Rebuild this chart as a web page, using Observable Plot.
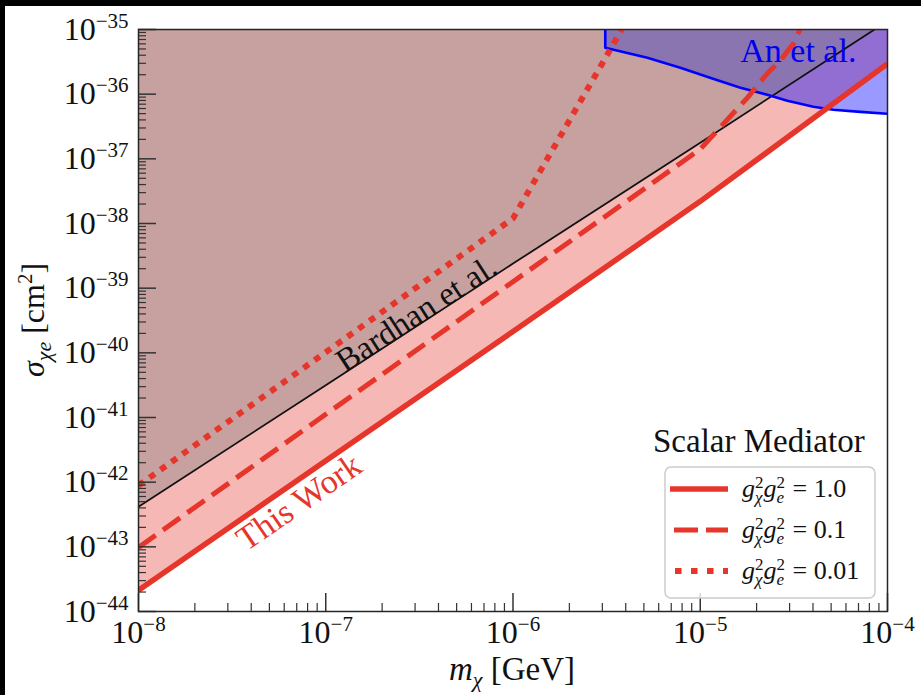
<!DOCTYPE html>
<html><head><meta charset="utf-8">
<script src="https://cdn.jsdelivr.net/npm/d3@7"></script>
<script src="https://cdn.jsdelivr.net/npm/@observablehq/plot@0.6"></script>
<style>
html,body{margin:0;padding:0;background:#000;width:921px;height:695px;overflow:hidden;}
#fig{position:absolute;left:5px;top:6px;width:916px;height:689px;background:#fff;}
#fig svg{position:absolute;left:0;top:0;}
</style></head><body><div id="fig"></div>
<script>
// ---- data ----
const TOP = 1e-35;
const massSolid  = [1e-8, 1e-7, 1e-6, 1e-5, 1e-4];
const sigmaSolid = [2.14e-44, 2.14e-42, 2.14e-40, 2.2e-38, 2.95e-36];

const massDashed  = [1e-8, 1e-7, 1e-6, 1e-5, 1.33e-5, 1.78e-5, 2.28e-5, 2.68e-5, 3.14e-5, 3.34e-5, 3.42e-5];
const sigmaDashed = [9.8e-44, 1.12e-41, 1.26e-39, 1.41e-37, 3.47e-37, 8.7e-37, 2.09e-36, 3.31e-36, 6.0e-36, 8.9e-36, 1.0e-35];

const massDotted  = [1e-8, 1e-7, 1e-6, 3.81e-6];
const sigmaDotted = [8.9e-43, 1.02e-40, 1.2e-38, 1.0e-35];

const massBardhan  = [1e-8, 1e-7, 1e-6, 1e-5, 1e-4];
const sigmaBardhan = [4.17e-43, 3.16e-41, 2.4e-39, 1.78e-37, 1.35e-35];

const massAn  = [3.11e-6, 3.11e-6, 5.22e-6, 7.83e-6, 1.17e-5, 1.64e-5, 2.28e-5, 2.92e-5, 4.02e-5, 5.14e-5, 7.16e-5, 1e-4];
const sigmaAn = [1.0e-35, 5.21e-36, 3.66e-36, 2.56e-36, 1.73e-36, 1.26e-36, 9.8e-37, 7.9e-37, 6.38e-37, 5.74e-37, 5.33e-37, 4.98e-37];

const xTickExp = [-8, -7, -6, -5, -4];
const yTickExp = [-44, -43, -42, -41, -40, -39, -38, -37, -36, -35];

const labelText  = ["Bardhan et al.", "This Work", "An et al."];
const labelMass  = [3.05e-7, 7.2e-8, 3.34e-5];
const labelSigma = [4.0e-40, 4.9e-43, 4.68e-36];
const labelRotate = [-33, -34.5, 0];
const labelSize = [33, 34, 34];

const legendTitle = "Scalar Mediator";
const legendValues = ["1.0", "0.1", "0.01"];
const legendDash = [null, "24,8", "6.5,9.5"];

// ---- build ----
const RED = "#e6352b";
const zip = (xs, ys) => xs.map((x, i) => ({x, y: ys[i]}));
const solid = zip(massSolid, sigmaSolid);
const dashed = zip(massDashed, sigmaDashed);
const dotted = zip(massDotted, sigmaDotted);
const bardhan = zip(massBardhan, sigmaBardhan);
const an = zip(massAn, sigmaAn);
const xTicks = xTickExp.map(e => Math.pow(10, e));
const yTicks = yTickExp.map(e => Math.pow(10, e));
const minorX = [], minorY = [];
xTicks.slice(0, -1).forEach(t => { for (let k = 2; k <= 9; k++) minorX.push(t * k); });
yTicks.slice(0, -1).forEach(t => { for (let k = 2; k <= 9; k++) minorY.push(t * k); });

const W = 916, H = 689, ML = 133, MR = 34, MT = 23, MB = 84;
const FW = W - ML - MR, FH = H - MT - MB;
const FONT = "Liberation Serif";
const labelFill = ["#111", RED, "#0000ee"];

const chart = Plot.plot({
  width: W, height: H,
  marginLeft: ML, marginRight: MR, marginTop: MT, marginBottom: MB,
  style: {fontFamily: FONT, fontSize: "32px", background: "transparent", color: "#111"},
  x: {type: "log", domain: [1e-8, 1e-4]},
  y: {type: "log", domain: [1e-44, 1e-35]},
  marks: [
    Plot.areaY(solid, {x: "x", y1: "y", y2: () => TOP, fill: RED, fillOpacity: 0.35, clip: true}),
    Plot.areaY(an, {x: "x", y1: "y", y2: () => TOP, fill: "#0000ff", fillOpacity: 0.4, clip: true}),
    Plot.areaY(bardhan, {x: "x", y1: "y", y2: () => TOP, fill: "#808080", fillOpacity: 0.4, clip: true}),
    Plot.line(bardhan, {x: "x", y: "y", stroke: "#111", strokeWidth: 1.8, clip: true}),
    Plot.line(an, {x: "x", y: "y", stroke: "#0000ff", strokeWidth: 2.6, clip: true}),
    Plot.line(solid, {x: "x", y: "y", stroke: RED, strokeWidth: 5.5, strokeLinecap: "butt", clip: true}),
    Plot.line(dashed, {x: "x", y: "y", stroke: RED, strokeWidth: 5, strokeDasharray: "21,9", strokeLinecap: "butt", strokeLinejoin: "miter", clip: true}),
    Plot.line(dotted, {x: "x", y: "y", stroke: RED, strokeWidth: 6, strokeDasharray: "6.5,7", strokeLinecap: "butt", strokeLinejoin: "miter", clip: true}),
    ...labelText.map((s, i) => Plot.text([s], {x: () => labelMass[i], y: () => labelSigma[i], text: d => d, rotate: labelRotate[i], fill: labelFill[i], fontSize: labelSize[i], fontFamily: FONT})),
    Plot.ruleX(minorX, {x: d => d, insetTop: FH - 8, stroke: "#333", strokeWidth: 1.2}),
    Plot.ruleX(xTicks, {x: d => d, insetTop: FH - 18, stroke: "#333", strokeWidth: 1.5}),
    Plot.ruleY(minorY, {y: d => d, insetRight: FW - 8, stroke: "#333", strokeWidth: 1.2}),
    Plot.ruleY(yTicks, {y: d => d, insetRight: FW - 18, stroke: "#333", strokeWidth: 1.5}),
    Plot.axisX(xTicks, {tickSize: 0, tickPadding: 9, tickFormat: d => "10^" + Math.round(Math.log10(d)), label: null, fontSize: 32, fontFamily: FONT}),
    Plot.axisY(yTicks, {tickSize: 0, tickPadding: 10, tickFormat: d => "10^" + Math.round(Math.log10(d)), label: null, fontSize: 32, fontFamily: FONT}),
    Plot.frame({stroke: "#262626", strokeWidth: 1.5})
  ]
});
document.getElementById("fig").appendChild(chart);

const NS = "http://www.w3.org/2000/svg";
function ts(parent, txt, attrs) {
  const t = document.createElementNS(NS, "tspan");
  t.textContent = txt;
  for (const k in attrs) t.setAttribute(k, attrs[k]);
  parent.appendChild(t);
  return t;
}
// superscript tick labels
chart.querySelectorAll('g[aria-label="x-axis tick label"] text, g[aria-label="y-axis tick label"] text').forEach(t => {
  const s = t.textContent;
  if (!s.includes("^")) return;
  const e = s.split("^")[1];
  t.textContent = "";
  ts(t, "10", {});
  ts(t, "\u2212" + Math.abs(+e), {"font-size": 21, dy: -12});
});

// axis titles + legend via d3 on an overlay svg
const ov = d3.select("#fig").append("svg").attr("width", W).attr("height", H)
  .style("pointer-events", "none").attr("font-family", FONT).attr("fill", "#111");

// y label
const yl = ov.append("text").attr("transform", "translate(39,314) rotate(-90)")
  .attr("text-anchor", "middle").attr("font-size", 32);
yl.append("tspan").attr("font-style", "italic").text("σ");
yl.append("tspan").attr("font-style", "italic").attr("font-size", 22).attr("dy", 7).text("χe");
yl.append("tspan").attr("dy", -7).text(" [cm");
yl.append("tspan").attr("font-size", 21).attr("dy", -12).text("2");
yl.append("tspan").attr("dy", 12).text("]");

// x label
const xl = ov.append("text").attr("x", 507).attr("y", 674)
  .attr("text-anchor", "middle").attr("font-size", 33);
xl.append("tspan").attr("font-style", "italic").text("m");
xl.append("tspan").attr("font-style", "italic").attr("font-size", 22).attr("dy", 7).text("χ");
xl.append("tspan").attr("dy", -7).text(" [GeV]");

// legend
ov.append("text").attr("x", 648).attr("y", 446).attr("font-size", 33).text(legendTitle);
ov.append("rect").attr("x", 660).attr("y", 461).attr("width", 210).attr("height", 131)
  .attr("rx", 6).attr("fill", "#fff").attr("fill-opacity", 0.8).attr("stroke", "#cccccc").attr("stroke-width", 1.5);
legendValues.forEach((v, i) => {
  const ly = 483 + i * 41;
  const ln = ov.append("line").attr("x1", 665).attr("x2", 723).attr("y1", ly).attr("y2", ly)
    .attr("stroke", RED).attr("stroke-width", i === 0 ? 5.5 : (i === 1 ? 5 : 6));
  if (legendDash[i]) ln.attr("stroke-dasharray", legendDash[i]).attr("stroke-dashoffset", i === 1 ? -4 : -5);
  const t = ov.append("text").attr("x", 737).attr("y", ly + 8).attr("font-size", 26);
  t.append("tspan").attr("font-style", "italic").text("g");
  t.append("tspan").attr("font-size", 17).attr("dy", -9).text("2");
  t.append("tspan").attr("font-size", 17).attr("font-style", "italic").attr("dx", -8.5).attr("dy", 15).text("χ");
  t.append("tspan").attr("font-style", "italic").attr("dy", -6).attr("dx", 1).text("g");
  t.append("tspan").attr("font-size", 17).attr("dy", -9).text("2");
  t.append("tspan").attr("font-size", 17).attr("font-style", "italic").attr("dx", -8.5).attr("dy", 15).text("e");
  t.append("tspan").attr("dy", -6).attr("dx", 2).text(" = " + v);
});
</script>
</body></html>
